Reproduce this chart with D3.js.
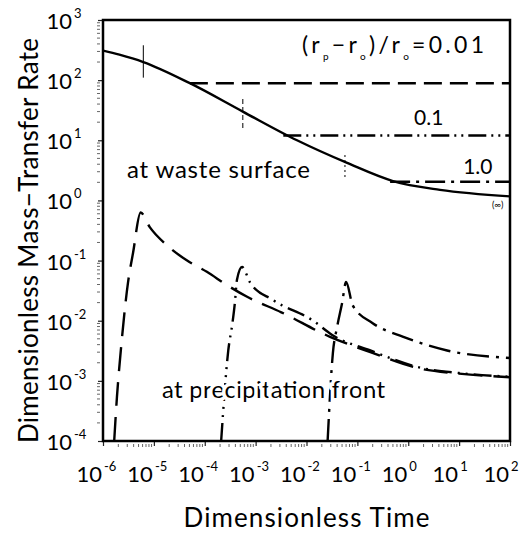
<!DOCTYPE html>
<html>
<head>
<meta charset="utf-8">
<script src="https://cdn.jsdelivr.net/npm/d3@7"></script>
<style>
  body { margin: 0; background: #fff; }
  svg { font-family: Lato, "DejaVu Sans", sans-serif; }
</style>
</head>
<body>
<div class="chart"></div>
<script>
// axis decades
const xTicks = [1e-6, 1e-5, 1e-4, 1e-3, 1e-2, 1e-1, 1e0, 1e1, 1e2];
const xExps = ['-6', '-5', '-4', '-3', '-2', '-1', '0', '1', '2'];
const yTicks = [1e-4, 1e-3, 1e-2, 1e-1, 1e0, 1e1, 1e2, 1e3];
const yExps = ['-4', '-3', '-2', '-1', '0', '1', '2', '3'];

// rate at waste surface, r_p -> infinity
const surfT = [1e-6, 2.1e-6, 6.2e-6, 5.1e-5, 5.6e-4, 6.5e-3, 6.3e-2, 0.5, 4.2, 100];
const surfRate = [310, 265, 200, 89, 30, 10, 4.2, 2.1, 1.5, 1.17];

// constant rate at waste surface once the front has formed
const plateauLabels = ['0.01', '0.1', '1.0'];
const plateauStart = [5.1e-5, 3.5e-3, 0.44];
const plateauEnd = [100, 100, 100];
const plateauRate = [89, 12, 2.05];

// short marks on the surface curve at the time of each peak
const markT = [6.2e-6, 5.6e-4, 5.7e-2];
const markLo = [110, 16, 2.45];
const markHi = [380, 53, 6.3];

// rate at precipitation front
const front001T = [1.66e-6, 1.88e-6, 2.24e-6, 3.1e-6, 3.9e-6, 5.5e-6, 8.3e-6, 1.8e-5, 4.5e-5, 1.1e-4, 2.75e-4, 6.8e-4, 3.2e-3, 2.9e-2, 0.18, 1.7, 10, 100];
const front001Rate = [1e-4, 5.4e-4, 3.2e-3, 4.3e-2, 0.135, 0.63, 0.36, 0.18, 0.10, 0.065, 0.039, 0.025, 0.0138, 5.4e-3, 3.0e-3, 1.6e-3, 1.32e-3, 1.15e-3];

const front01T = [2.1e-4, 2.9e-4, 3.5e-4, 3.9e-4, 4.3e-4, 5.4e-4, 7.8e-4, 2.2e-3, 1.35e-2, 3.2e-2, 0.18, 1.7, 10, 100];
const front01Rate = [1e-4, 3.2e-3, 9.1e-3, 1.95e-2, 4.8e-2, 7.8e-2, 4.3e-2, 2.2e-2, 1.0e-2, 5.8e-3, 3.2e-3, 1.66e-3, 1.35e-3, 1.17e-3];

const front1T = [2.6e-2, 3.3e-2, 4.0e-2, 5.0e-2, 6.0e-2, 8.1e-2, 0.2, 0.8, 5.8, 100];
const front1Rate = [1e-4, 2.9e-3, 7.9e-3, 1.95e-2, 4.4e-2, 1.8e-2, 9.1e-3, 5.4e-3, 3.2e-3, 2.4e-3];

const dashes = ['18,8', '18,5,2,5,2,5', '20,6,3,6'];
const frontDashes = ['24,11', '18,6,2,6,2,6', '22,7,3,7'];

const width = 532, height = 533;
const margin = { top: 20, right: 22, bottom: 92, left: 103 };
const plotW = width - margin.left - margin.right;
const plotH = height - margin.top - margin.bottom;

const svg = d3.select('.chart').append('svg')
    .attr('width', width)
    .attr('height', height);

const g = svg.append('g')
    .attr('transform', `translate(${margin.left},${margin.top})`);

const x = d3.scaleLog().domain([1e-6, 1e2]).range([0, plotW]);
const y = d3.scaleLog().domain([1e-4, 1e3]).range([plotH, 0]);

g.append('clipPath').attr('id', 'plot')
    .append('rect').attr('width', plotW).attr('height', plotH);

// axes: major ticks from d3, minor ticks drawn by hand
const xAxis = g.append('g')
    .attr('transform', `translate(0,${plotH})`)
    .call(d3.axisBottom(x).tickValues(xTicks).tickSize(5).tickSizeOuter(0).tickFormat(''));
const yAxis = g.append('g')
    .call(d3.axisLeft(y).tickValues(yTicks).tickSize(5).tickSizeOuter(0).tickFormat(''));
[xAxis, yAxis].forEach(a => {
    a.select('.domain').remove();
    a.selectAll('line').attr('stroke', '#222').attr('stroke-width', 1.2);
});

const minorX = x.ticks().filter(t => !xTicks.includes(t));
g.selectAll('.minor-x').data(minorX).enter().append('line')
    .attr('x1', d => x(d)).attr('x2', d => x(d))
    .attr('y1', plotH + 3).attr('y2', plotH + 6)
    .attr('stroke', '#666').attr('stroke-width', 1);
const minorY = y.ticks().filter(t => !yTicks.includes(t));
g.selectAll('.minor-y').data(minorY).enter().append('line')
    .attr('y1', d => y(d)).attr('y2', d => y(d))
    .attr('x1', -3).attr('x2', -6)
    .attr('stroke', '#666').attr('stroke-width', 1);

// tick labels as 10 with a raised exponent
xTicks.forEach((t, i) => {
    g.append('text').attr('x', x(t) - 1).attr('y', plotH + 41)
        .attr('text-anchor', 'end').attr('font-size', 22).text('10');
    g.append('text').attr('x', x(t) + 1).attr('y', plotH + 30)
        .attr('font-size', 13).text(xExps[i]);
});
yTicks.forEach((t, i) => {
    g.append('text').attr('x', -31).attr('y', y(t) + 9)
        .attr('text-anchor', 'end').attr('font-size', 22).text('10');
    g.append('text').attr('x', -29).attr('y', y(t) - 2)
        .attr('font-size', 13).text(yExps[i]);
});

// curves
const line = d3.line()
    .x(d => x(d[0]))
    .y(d => y(d[1]))
    .curve(d3.curveMonotoneX);

const curves = g.append('g').attr('clip-path', 'url(#plot)')
    .attr('fill', 'none').attr('stroke', '#000');

curves.append('path')
    .attr('d', line(d3.zip(surfT, surfRate)))
    .attr('stroke-width', 2.4);

plateauRate.forEach((r, i) => {
    curves.append('path')
        .attr('d', line([[plateauStart[i], r], [plateauEnd[i], r]]))
        .attr('stroke-width', 2.4)
        .attr('stroke-dasharray', dashes[i]);
});

const markDash = [null, '5,3', '2,3'];
markT.forEach((t, i) => {
    curves.append('line')
        .attr('x1', x(t)).attr('x2', x(t))
        .attr('y1', y(markLo[i])).attr('y2', y(markHi[i]))
        .attr('stroke-width', 1)
        .attr('stroke-dasharray', markDash[i]);
});

[[front001T, front001Rate], [front01T, front01Rate], [front1T, front1Rate]].forEach((s, i) => {
    curves.append('path')
        .attr('d', line(d3.zip(s[0], s[1])))
        .attr('stroke-width', 2.4)
        .attr('stroke-dasharray', frontDashes[i]);
});

// frame
g.append('rect')
    .attr('width', plotW).attr('height', plotH)
    .attr('fill', 'none').attr('stroke', '#000').attr('stroke-width', 2.5);

// annotations
const head = g.append('text').attr('x', 199).attr('y', 33).attr('font-size', 23)
    .attr('textLength', 182);
head.append('tspan').text('(r');
head.append('tspan').attr('font-size', 10).attr('dy', 7).text('p');
head.append('tspan').attr('dy', -7).text('−r');
head.append('tspan').attr('font-size', 10).attr('dy', 7).text('o');
head.append('tspan').attr('dy', -7).text(')/r');
head.append('tspan').attr('font-size', 10).attr('dy', 7).text('o');
head.append('tspan').attr('dy', -7).text('=' + plateauLabels[0]);

g.append('text').attr('x', x(1.3)).attr('y', y(plateauRate[1]) - 11)
    .attr('font-size', 21).text(plateauLabels[1]);
g.append('text').attr('x', x(12)).attr('y', y(plateauRate[2]) - 8)
    .attr('font-size', 21).text(plateauLabels[2]);
g.append('text').attr('x', plotW - 18).attr('y', y(plateauRate[2]) + 26)
    .attr('font-size', 9).text('(∞)');

g.append('text').attr('x', 24).attr('y', 158)
    .attr('font-size', 24).attr('textLength', 183).text('at waste surface');
// white halo so the rising curves break around the label, as in the original
g.append('text').attr('x', 59).attr('y', 378)
    .attr('font-size', 24).attr('textLength', 223)
    .attr('stroke', '#fff').attr('stroke-width', 7).attr('paint-order', 'stroke')
    .text('at precipitation front');

// axis titles
svg.append('text')
    .attr('x', margin.left + plotW / 2).attr('y', 527)
    .attr('text-anchor', 'middle').attr('font-size', 26).attr('textLength', 246)
    .text('Dimensionless Time');
svg.append('text')
    .attr('transform', `translate(38,${margin.top + plotH / 2 + 10}) rotate(-90)`)
    .attr('text-anchor', 'middle').attr('font-size', 26).attr('textLength', 405)
    .text('Dimensionless Mass−Transfer Rate');
</script>
</body>
</html>
